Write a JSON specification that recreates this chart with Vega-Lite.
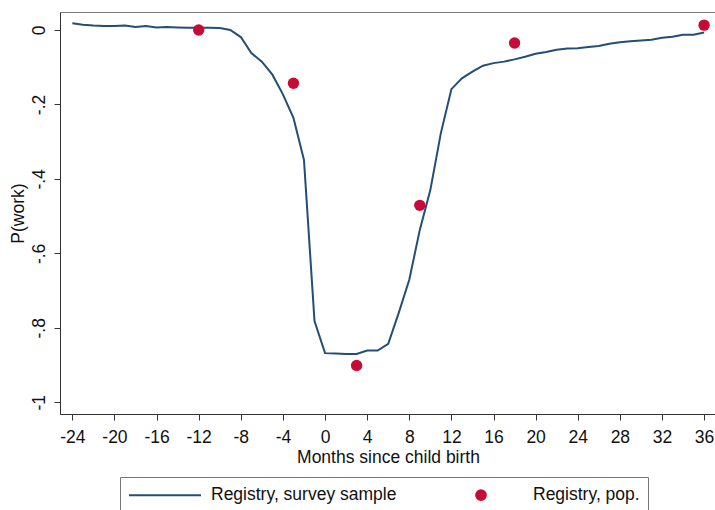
{
  "$schema": "https://vega.github.io/schema/vega-lite/v6.json",
  "autosize": {"type": "none"},
  "padding": {"left": 60, "top": 12, "right": 0, "bottom": 96},
  "width": 656,
  "height": 402,
  "background": "white",
  "config": {
    "font": "Liberation Sans",
    "view": {"stroke": "#7a7a7a", "strokeWidth": 1},
    "axis": {
      "grid": false,
      "domainColor": "#333",
      "tickColor": "#333",
      "tickSize": 6,
      "labelFontSize": 17.5,
      "labelColor": "#111",
      "titleFontSize": 17.5,
      "titleFontWeight": "normal",
      "titleColor": "#111"
    }
  },
  "datasets": {
    "survey": [
      {"m": -24, "p": 0.018, "s": "Registry, survey sample"},
      {"m": -23, "p": 0.014, "s": "Registry, survey sample"},
      {"m": -22, "p": 0.012, "s": "Registry, survey sample"},
      {"m": -21, "p": 0.011, "s": "Registry, survey sample"},
      {"m": -20, "p": 0.011, "s": "Registry, survey sample"},
      {"m": -19, "p": 0.012, "s": "Registry, survey sample"},
      {"m": -18, "p": 0.008, "s": "Registry, survey sample"},
      {"m": -17, "p": 0.011, "s": "Registry, survey sample"},
      {"m": -16, "p": 0.007, "s": "Registry, survey sample"},
      {"m": -15, "p": 0.008, "s": "Registry, survey sample"},
      {"m": -14, "p": 0.007, "s": "Registry, survey sample"},
      {"m": -13, "p": 0.006, "s": "Registry, survey sample"},
      {"m": -12, "p": 0.006, "s": "Registry, survey sample"},
      {"m": -11, "p": 0.006, "s": "Registry, survey sample"},
      {"m": -10, "p": 0.005, "s": "Registry, survey sample"},
      {"m": -9, "p": 0.0, "s": "Registry, survey sample"},
      {"m": -8, "p": -0.019, "s": "Registry, survey sample"},
      {"m": -7, "p": -0.062, "s": "Registry, survey sample"},
      {"m": -6, "p": -0.085, "s": "Registry, survey sample"},
      {"m": -5, "p": -0.12, "s": "Registry, survey sample"},
      {"m": -4, "p": -0.173, "s": "Registry, survey sample"},
      {"m": -3, "p": -0.236, "s": "Registry, survey sample"},
      {"m": -2, "p": -0.349, "s": "Registry, survey sample"},
      {"m": -1, "p": -0.782, "s": "Registry, survey sample"},
      {"m": 0, "p": -0.868, "s": "Registry, survey sample"},
      {"m": 1, "p": -0.869, "s": "Registry, survey sample"},
      {"m": 2, "p": -0.87, "s": "Registry, survey sample"},
      {"m": 3, "p": -0.87, "s": "Registry, survey sample"},
      {"m": 4, "p": -0.861, "s": "Registry, survey sample"},
      {"m": 5, "p": -0.861, "s": "Registry, survey sample"},
      {"m": 6, "p": -0.843, "s": "Registry, survey sample"},
      {"m": 7, "p": -0.76, "s": "Registry, survey sample"},
      {"m": 8, "p": -0.671, "s": "Registry, survey sample"},
      {"m": 9, "p": -0.537, "s": "Registry, survey sample"},
      {"m": 10, "p": -0.43, "s": "Registry, survey sample"},
      {"m": 11, "p": -0.277, "s": "Registry, survey sample"},
      {"m": 12, "p": -0.159, "s": "Registry, survey sample"},
      {"m": 13, "p": -0.13, "s": "Registry, survey sample"},
      {"m": 14, "p": -0.112, "s": "Registry, survey sample"},
      {"m": 15, "p": -0.096, "s": "Registry, survey sample"},
      {"m": 16, "p": -0.089, "s": "Registry, survey sample"},
      {"m": 17, "p": -0.085, "s": "Registry, survey sample"},
      {"m": 18, "p": -0.079, "s": "Registry, survey sample"},
      {"m": 19, "p": -0.072, "s": "Registry, survey sample"},
      {"m": 20, "p": -0.064, "s": "Registry, survey sample"},
      {"m": 21, "p": -0.059, "s": "Registry, survey sample"},
      {"m": 22, "p": -0.053, "s": "Registry, survey sample"},
      {"m": 23, "p": -0.05, "s": "Registry, survey sample"},
      {"m": 24, "p": -0.049, "s": "Registry, survey sample"},
      {"m": 25, "p": -0.046, "s": "Registry, survey sample"},
      {"m": 26, "p": -0.043, "s": "Registry, survey sample"},
      {"m": 27, "p": -0.037, "s": "Registry, survey sample"},
      {"m": 28, "p": -0.033, "s": "Registry, survey sample"},
      {"m": 29, "p": -0.03, "s": "Registry, survey sample"},
      {"m": 30, "p": -0.028, "s": "Registry, survey sample"},
      {"m": 31, "p": -0.026, "s": "Registry, survey sample"},
      {"m": 32, "p": -0.021, "s": "Registry, survey sample"},
      {"m": 33, "p": -0.018, "s": "Registry, survey sample"},
      {"m": 34, "p": -0.013, "s": "Registry, survey sample"},
      {"m": 35, "p": -0.013, "s": "Registry, survey sample"},
      {"m": 36, "p": -0.007, "s": "Registry, survey sample"}
    ],
    "pop": [
      {"m": -12, "p": 0.0, "s": "Registry, pop."},
      {"m": -3, "p": -0.143, "s": "Registry, pop."},
      {"m": 3, "p": -0.901, "s": "Registry, pop."},
      {"m": 9, "p": -0.471, "s": "Registry, pop."},
      {"m": 18, "p": -0.035, "s": "Registry, pop."},
      {"m": 36, "p": 0.013, "s": "Registry, pop."}
    ]
  },
  "encoding": {
    "x": {
      "field": "m",
      "type": "quantitative",
      "title": "Months since child birth",
      "scale": {"domain": [-25.17, 37.13], "nice": false, "zero": false},
      "axis": {
        "values": [-24, -20, -16, -12, -8, -4, 0, 4, 8, 12, 16, 20, 24, 28, 32, 36],
        "labelExpr": "toString(datum.value)",
        "labelPadding": 8,
        "titlePadding": 3,
        "labelFlush": false,
        "labelOverlap": false
      }
    },
    "y": {
      "field": "p",
      "type": "quantitative",
      "title": "P(work)",
      "scale": {"domain": [-1.0315, 0.0483], "nice": false, "zero": false},
      "axis": {
        "values": [0, -0.2, -0.4, -0.6, -0.8, -1],
        "labelExpr": "datum.value == 0 ? '0' : (datum.value <= -0.99 ? '-1' : '-.' + toString(round(-datum.value * 10)))",
        "labelAngle": -90,
        "labelAlign": "center",
        "labelBaseline": "bottom",
        "labelPadding": 6,
        "titlePadding": 3,
        "labelFlush": false,
        "labelOverlap": false
      }
    },
    "color": {
      "field": "s",
      "type": "nominal",
      "scale": {
        "domain": ["Registry, survey sample", "Registry, pop."],
        "range": ["#234e75", "#c80a36"]
      },
      "legend": {
        "title": null,
        "orient": "none",
        "legendX": 60,
        "legendY": 465,
        "direction": "horizontal",
        "columns": 2,
        "columnPadding": 74,
        "padding": 8,
        "strokeColor": "#777",
        "fillColor": "white",
        "labelFontSize": 17.5,
        "labelColor": "#111",
        "labelLimit": 400,
        "labelOffset": 12,
        "symbolType": "circle",
        "symbolSize": 324,
        "symbolStrokeWidth": 2,
        "encode": {
          "symbols": {
            "update": {
              "shape": {"signal": "datum.value == 'Registry, pop.' ? 'circle' : 'M-1,0L7,0'"},
              "size": {"signal": "datum.value == 'Registry, pop.' ? 95 : 324"},
              "fill": {"signal": "datum.value == 'Registry, pop.' ? '#c80a36' : 'transparent'"},
              "stroke": {"signal": "datum.value == 'Registry, pop.' ? 'transparent' : '#234e75'"},
              "strokeWidth": {"value": 2},
              "opacity": {"value": 1}
            }
          },
          "labels": {
            "update": {
              "x": {"signal": "datum.value == 'Registry, pop.' ? 62 : 83"}
            }
          }
        }
      }
    }
  },
  "layer": [
    {
      "data": {"name": "survey"},
      "mark": {"type": "line", "strokeWidth": 2}
    },
    {
      "data": {"name": "pop"},
      "mark": {"type": "point", "filled": true, "size": 130, "opacity": 1, "shape": "circle"}
    }
  ]
}
